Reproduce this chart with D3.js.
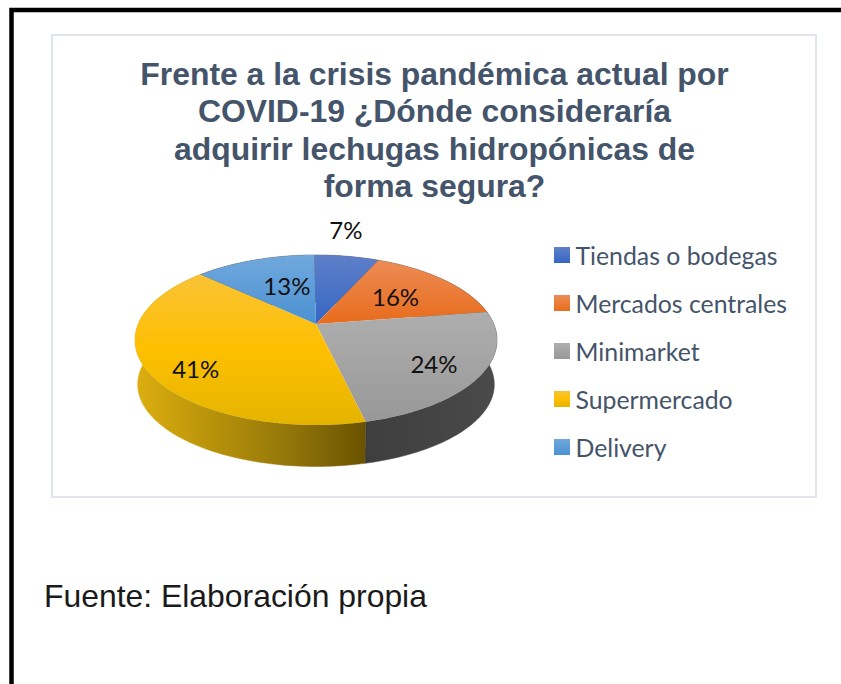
<!DOCTYPE html>
<html><head><meta charset="utf-8">
<script src="https://cdn.jsdelivr.net/npm/d3@7"></script>
<style>html,body{margin:0;padding:0;background:#fff}svg{display:block}</style>
</head><body><svg id="c" width="841" height="684"></svg>
<script>
const categories = ["Tiendas o bodegas","Mercados centrales","Minimarket","Supermercado","Delivery"];
const values = [7,16,24,41,13];
const titleLines = ["Frente a la crisis pandémica actual por","COVID-19 ¿Dónde consideraría","adquirir lechugas hidropónicas de","forma segura?"];
const source = "Fuente: Elaboración propia";
const topColors = [["#5f80c9","#3566c3"],["#ed8c55","#e86c1c"],["#aeaeae","#989898"],["#f9c236","#fec000","#e4b400"],["#71a8dd","#4a91d2"]];
const labelRadius = [1.25,0.6,0.75,0.7,0.55];
const labelShift = [[-7,-11],[0,2],[-2,4],[-5,15],[7,1]];

const svg = d3.select("#c");
const defs = svg.append("defs");
svg.append("rect").attr("width",841).attr("height",684).attr("fill","#fff");
svg.append("path").attr("d","M11.5 684V10H841").attr("fill","none").attr("stroke","#000").attr("stroke-width",4.5);
svg.append("rect").attr("x",52).attr("y",35).attr("width",764).attr("height",462)
  .attr("fill","#fff").attr("stroke","#e0e5ee").attr("stroke-width",2);

const titleY = d3.scalePoint().domain(d3.range(titleLines.length)).range([85,197]);
svg.append("g").selectAll("text").data(titleLines).join("text")
  .attr("x",434.5).attr("y",(d,i)=>titleY(i)).attr("text-anchor","middle")
  .attr("font-family","'Liberation Sans',Arial,sans-serif").attr("font-weight","bold")
  .attr("font-size",31.9).attr("fill","#44546a").text(d=>d);

// perspective projection of the pie plane
const cx=316, cy=324, k=0.188;
function proj(angle,r,scale=1,dy=0){
  const x=r*Math.sin(angle), y=-r*Math.cos(angle), w=1-k*y;
  return [cx+177.8*scale*x/w, cy+dy+82*(scale<1?0.965:1)*y/w];
}
const arcs = d3.pie().sort(null).value(d=>d).startAngle(-0.012).endAngle(2*Math.PI-0.012)(values);
const line = d3.line();
const sweep = (a,b,s,dy)=>{
  const n=Math.max(2,Math.ceil((b-a)/0.02));
  return d3.range(n+1).map(i=>proj(a+(b-a)*i/n,1,s,dy));
};

// gradients
function grad(id,stops,attrs){
  const g=defs.append("linearGradient").attr("id",id);
  Object.entries(attrs).forEach(([a,v])=>g.attr(a,v));
  stops.forEach((c,i)=>g.append("stop").attr("offset",i/(stops.length-1)).attr("stop-color",c));
}
topColors.forEach((c,i)=>grad("t"+i,c,{x1:0,y1:0,x2:0,y2:1}));
grad("wallY",["#dcae10","#b8930a","#93760a","#6a5300"],{gradientUnits:"userSpaceOnUse",x1:135,y1:0,x2:365,y2:0});
grad("wallG",["#3e3e3e","#4a4a4a"],{gradientUnits:"userSpaceOnUse",x1:365,y1:0,x2:495,y2:0});

// walls
const wallFill = i=> i===3?"url(#wallY)": i===2?"url(#wallG)": "#555";
svg.append("g").selectAll("path").data(arcs).join("path")
  .attr("d",d=>{
    const t=sweep(d.startAngle,d.endAngle,1,0), b=sweep(d.startAngle,d.endAngle,0.985,45).reverse();
    return line(t.concat(b))+"Z";
  }).attr("fill",(d,i)=>wallFill(i)).attr("stroke",(d,i)=>wallFill(i)).attr("stroke-width",0.5);

// top face
svg.append("g").selectAll("path").data(arcs).join("path")
  .attr("d",d=>line([[cx,cy]].concat(sweep(d.startAngle,d.endAngle,1,0)))+"Z")
  .attr("fill",(d,i)=>`url(#t${i})`);

// data labels
svg.append("g").selectAll("text").data(arcs).join("text")
  .attr("x",(d,i)=>proj((d.startAngle+d.endAngle)/2,labelRadius[i])[0]+labelShift[i][0])
  .attr("y",(d,i)=>proj((d.startAngle+d.endAngle)/2,labelRadius[i])[1]+labelShift[i][1]+8)
  .attr("text-anchor","middle").attr("font-family","Lato,'Noto Sans',sans-serif")
  .attr("font-size",24).attr("fill","#111").text(d=>d.data+"%");

// legend
const legY = d3.scalePoint().domain(categories).range([255,447]);
const leg = svg.append("g").selectAll("g").data(categories).join("g")
  .attr("transform",d=>`translate(0,${legY(d)})`);
leg.append("rect").attr("x",554).attr("y",-8).attr("width",16).attr("height",16)
  .attr("fill",(d,i)=>`url(#t${i})`);
leg.append("text").attr("x",575.5).attr("y",9.5).attr("font-family","Lato,'Noto Sans',sans-serif")
  .attr("font-size",24.8).attr("fill","#44546a").text(d=>d);

svg.append("text").attr("x",44).attr("y",607).attr("font-family","'Liberation Sans',Arial,sans-serif")
  .attr("font-size",31.9).attr("fill","#1a1a1a").text(source);
</script></body></html>
